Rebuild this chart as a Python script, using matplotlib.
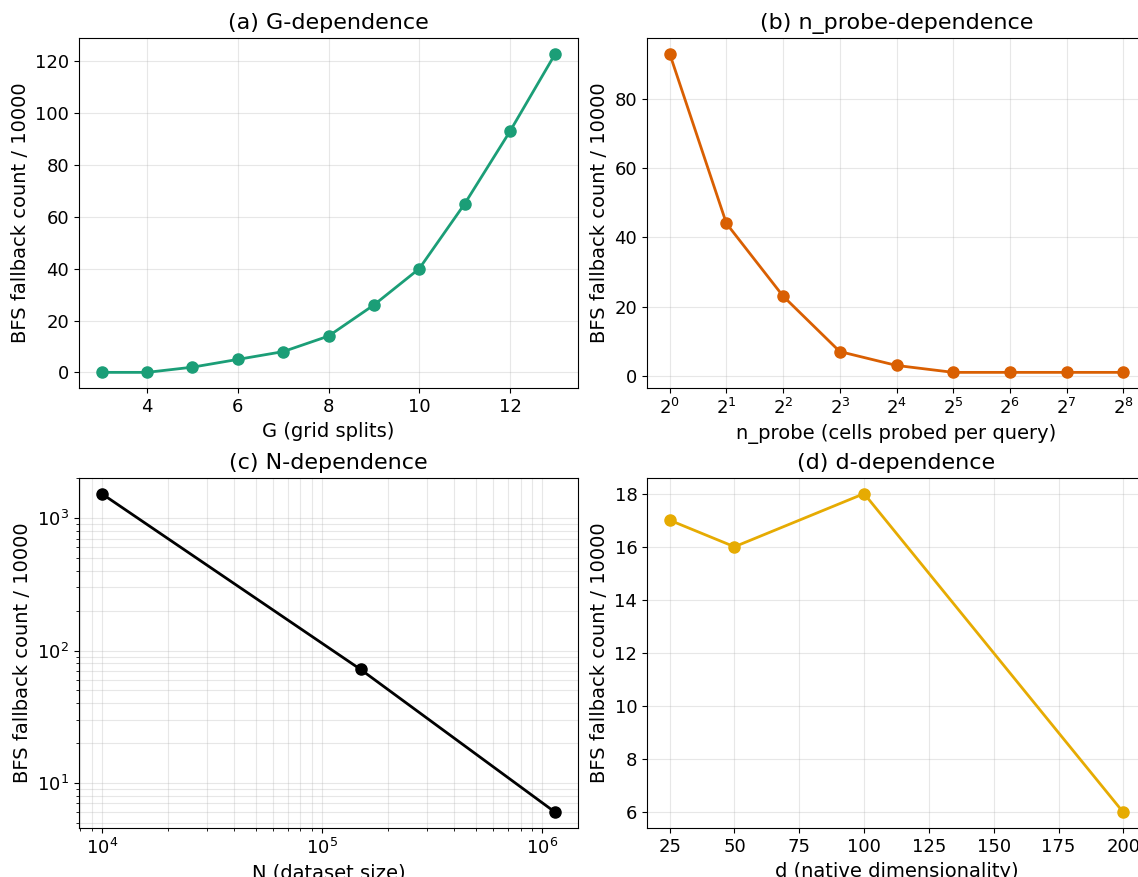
import matplotlib
matplotlib.use("Agg")
import matplotlib.pyplot as plt

# (a) G-dependence
G_vals = [3, 4, 5, 6, 7, 8, 9, 10, 11, 12, 13]
G_fallback = [0, 0, 2, 5, 8, 14, 26, 40, 65, 93, 123]

# (b) n_probe-dependence
nprobe_vals = [1, 2, 4, 8, 16, 32, 64, 128, 256]
nprobe_fallback = [93, 44, 23, 7, 3, 1, 1, 1, 1]

# (c) N-dependence
N_vals = [10000, 150000, 1150000]
N_fallback = [1530, 72, 6]

# (d) d-dependence
d_vals = [25, 50, 100, 200]
d_fallback = [17, 16, 18, 6]

plt.rcParams["font.family"] = "DejaVu Sans"
plt.rcParams["xtick.labelsize"] = 13
plt.rcParams["ytick.labelsize"] = 13

fig = plt.figure(figsize=(11.38, 8.77), dpi=100)
W, H = 1138.0, 877.0
aw, ah = 499 / W, 350.6 / H
ax_a = fig.add_axes([79 / W, (H - 388.3) / H, aw, ah])
ax_b = fig.add_axes([647 / W, (H - 388.3) / H, aw, ah])
ax_c = fig.add_axes([79 / W, (H - 828.3) / H, aw, ah])
ax_d = fig.add_axes([647 / W, (H - 828.3) / H, aw, ah])

ylab = "BFS fallback count / 10000"

ax_a.plot(G_vals, G_fallback, "-o", color="#1b9e77", lw=2, ms=8)
ax_a.set_title("(a) G-dependence", fontsize=16)
ax_a.set_xlabel("G (grid splits)", fontsize=14)
ax_a.set_ylabel(ylab, fontsize=14)
ax_a.grid(True, alpha=0.3)

ax_b.plot(nprobe_vals, nprobe_fallback, "-o", color="#d95f02", lw=2, ms=8)
ax_b.set_xscale("log", base=2)
ax_b.set_xticks(nprobe_vals)
ax_b.set_title("(b) n_probe-dependence", fontsize=16)
ax_b.set_xlabel("n_probe (cells probed per query)", fontsize=14)
ax_b.set_ylabel(ylab, fontsize=14)
ax_b.grid(True, alpha=0.3)

ax_c.plot(N_vals, N_fallback, "-o", color="black", lw=2, ms=8)
ax_c.set_xscale("log")
ax_c.set_yscale("log")
ax_c.set_title("(c) N-dependence", fontsize=16)
ax_c.set_xlabel("N (dataset size)", fontsize=14)
ax_c.set_ylabel(ylab, fontsize=14)
ax_c.grid(True, which="both", alpha=0.3)

ax_d.plot(d_vals, d_fallback, "-o", color="#e6ab02", lw=2, ms=8)
ax_d.set_title("(d) d-dependence", fontsize=16)
ax_d.set_xlabel("d (native dimensionality)", fontsize=14)
ax_d.set_ylabel(ylab, fontsize=14)
ax_d.grid(True, alpha=0.3)

fig.savefig("out.png", dpi=100)
